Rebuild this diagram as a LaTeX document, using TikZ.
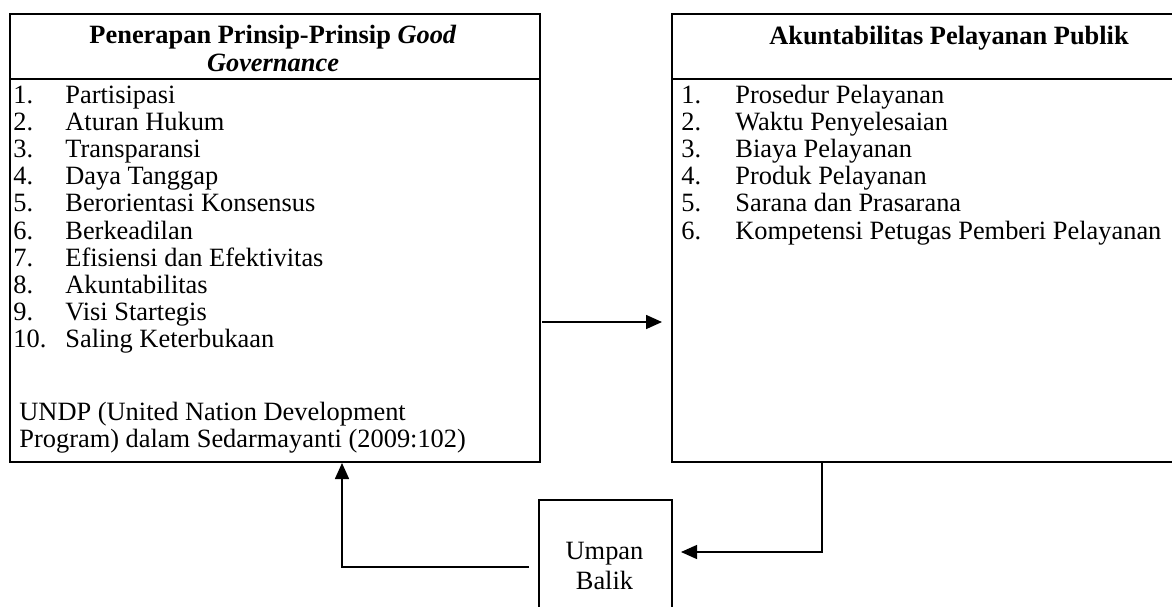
\documentclass[tikz,border=0pt]{standalone}
\usepackage{fontspec}
\setmainfont{Liberation Serif}
\usetikzlibrary{arrows.meta}

\tikzset{
  panel/.style={draw, line width=1pt, anchor=north west, inner sep=0pt},
  item/.style={anchor=base west, inner sep=0pt, font=\fontsize{13.2}{13.6}\selectfont},
  title/.style={anchor=base, inner sep=0pt, align=center, font=\fontsize{13.2}{13.6}\selectfont\bfseries},
  link/.style={line width=0.8pt, -{Triangle[length=8pt,width=7pt]}},
}

\begin{document}
\begin{tikzpicture}[x=0.5pt,y=0.5pt,yscale=-1]
		\useasboundingbox (0,0) rectangle (1172,606);

		% Left panel with its header strip
		\node[panel, minimum width=265pt, minimum height=224pt] (prinsip) at (9,13) {};
		\node[panel, minimum width=265pt, minimum height=32.5pt] (prinsiphead) at (9,13) {};

		% Right panel, running past the right edge
		\node[panel, minimum width=278pt, minimum height=224pt] (akun) at (671,13) {};
		\node[panel, minimum width=278pt, minimum height=32.5pt] (akunhead) at (671,13) {};

		% Feedback box, running past the bottom edge
		\node[panel, minimum width=66.5pt, minimum height=70pt] (umpan) at (538,499) {};

		% Header texts (base sits on the last line)
		\node[title] (prinsiptitle) at (273,71) {Penerapan Prinsip-Prinsip \textit{Good}\\\textit{Governance}};
		\node[title] (akuntitle) at (949,44) {Akuntabilitas Pelayanan Publik};

		% List of principles (left)
		\foreach \txt [count=\k] in {Partisipasi, Aturan Hukum, Transparansi, Daya Tanggap,
		  Berorientasi Konsensus, Berkeadilan, Efisiensi dan Efektivitas, Akuntabilitas,
		  Visi Startegis, Saling Keterbukaan}
		{
		  \node[item] (pnum\k) at (13,{103+27.2*(\k-1)}) {\k.};
		  \node[item] (p\k) at (65,{103+27.2*(\k-1)}) {\txt};
		}

		% Source note
		\node[item] (sumber1) at (19,420) {UNDP (United Nation Development};
		\node[item] (sumber2) at (19,447) {Program) dalam Sedarmayanti (2009:102)};

		% List of accountability aspects (right)
		\foreach \txt [count=\k] in {Prosedur Pelayanan, Waktu Penyelesaian, Biaya Pelayanan,
		  Produk Pelayanan, Sarana dan Prasarana, Kompetensi Petugas Pemberi Pelayanan}
		{
		  \node[item] (anum\k) at (681,{103+27.2*(\k-1)}) {\k.};
		  \node[item] (a\k) at (735,{103+27.2*(\k-1)}) {\txt};
		}

		% Text in the feedback box
		\node[anchor=base, inner sep=0pt, align=center, font=\fontsize{13.2}{15}\selectfont] (umpantext) at (604.5,589) {Umpan\\Balik};

		% Arrow between the panels
		\coordinate (mid) at (0,322);
		\draw[link] ([xshift=0.5pt]prinsip.east |- mid) -- ([xshift=-4.5pt]akun.west |- mid);

		% Arrow from the right panel down to the feedback box
		\coordinate (turn) at (822,552);
		\draw[link, line width=0.7pt] (akun.south west -| turn) -- (turn) -- ([xshift=4pt]umpan.east |- turn);

		% Arrow from the feedback box back up to the left panel
		\coordinate (back) at (342,567);
		\draw[link] ([xshift=-4.5pt]umpan.west |- back) -- (back) -- (prinsip.south -| back);
\end{tikzpicture}
\end{document}
